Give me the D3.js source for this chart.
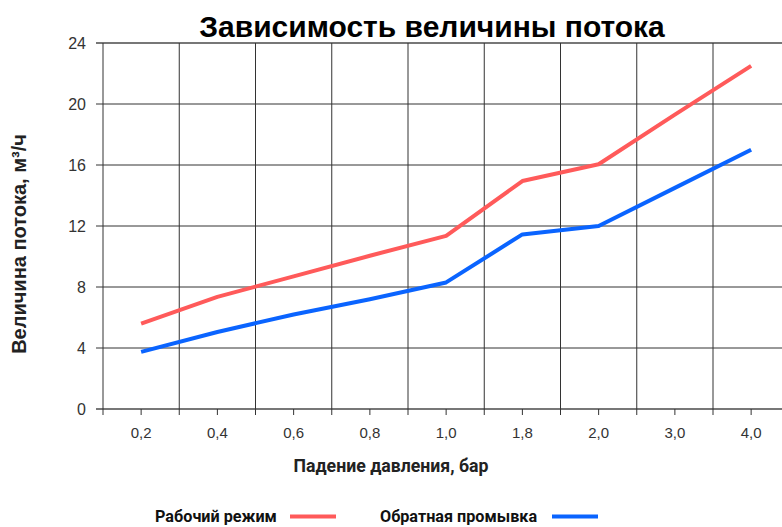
<!DOCTYPE html>
<html><head><meta charset="utf-8">
<script src="https://cdn.jsdelivr.net/npm/d3@7/dist/d3.min.js"></script>
<style>body{margin:0;background:#fff}svg{display:block}</style>
</head><body><svg id="c" width="782" height="527"></svg>
<script>
const categories = ["0,2","0,4","0,6","0,8","1,0","1,8","2,0","3,0","4,0"];
const workMode = [5.6, 7.35, 8.7, 10.05, 11.35, 14.95, 16.05, 19.3, 22.5];
const backwash = [3.75, 5.05, 6.2, 7.2, 8.3, 11.45, 12.0, 14.5, 17.0];
const yTicks = [0, 4, 8, 12, 16, 20, 24];
const seriesNames = ["Рабочий режим", "Обратная промывка"];
const colors = ["#ff5a5a", "#0a64ff"];

const svg = d3.select("#c");
const plotLeft = 103, plotTop = 43, plotBottom = 409;
const x = d3.scaleBand().domain(categories).range([plotLeft, plotLeft + 9*76.25]);
const y = d3.scaleLinear().domain([0, 24]).range([plotBottom, plotTop]);

// horizontal gridlines
svg.append("g").selectAll("line").data(yTicks).join("line")
  .attr("x1", 96).attr("x2", 782)
  .attr("y1", d => y(d)).attr("y2", d => y(d))
  .attr("stroke", d => (d === 0 || d === 24) ? "#777" : "#333")
  .attr("stroke-width", d => (d === 0 || d === 24) ? 2 : 1);

// vertical gridlines at band boundaries
const bounds = categories.map(c => x(c));
svg.append("g").selectAll("line").data(bounds).join("line")
  .attr("x1", d => d).attr("x2", d => d)
  .attr("y1", plotTop).attr("y2", plotBottom + 6)
  .attr("stroke", "#333").attr("stroke-width", 1);
// ticks at centers
svg.append("g").selectAll("line").data(categories).join("line")
  .attr("x1", d => x(d) + x.bandwidth()/2).attr("x2", d => x(d) + x.bandwidth()/2)
  .attr("y1", plotBottom).attr("y2", plotBottom + 6)
  .attr("stroke", "#333").attr("stroke-width", 1);

// y tick labels
svg.append("g").selectAll("text").data(yTicks).join("text")
  .attr("x", 86).attr("y", d => y(d)).attr("dy", "0.35em")
  .attr("text-anchor", "end").attr("font-family", "Liberation Sans, Arial, sans-serif")
  .attr("font-size", 16).attr("fill", "#333").text(d => d);

// x tick labels
svg.append("g").selectAll("text").data(categories).join("text")
  .attr("x", d => x(d) + x.bandwidth()/2).attr("y", 433).attr("dy", "0.35em")
  .attr("text-anchor", "middle").attr("font-family", "Liberation Sans, Arial, sans-serif")
  .attr("font-size", 15).attr("fill", "#333").text(d => d);

// lines
const line = d3.line().x((d, i) => x(categories[i]) + x.bandwidth()/2).y(d => y(d));
[workMode, backwash].forEach((s, i) => {
  svg.append("path").datum(s).attr("d", line).attr("fill", "none")
    .attr("stroke", colors[i]).attr("stroke-width", 4).attr("stroke-linejoin", "round");
});

// title
svg.append("text").attr("x", 432).attr("y", 37).attr("text-anchor", "middle")
  .attr("font-family", "Liberation Sans, Arial, sans-serif").attr("font-weight", "bold")
  .attr("font-size", 30).attr("fill", "#000").text("Зависимость величины потока");

// y title
svg.append("text").attr("transform", "translate(26,244) rotate(-90)").attr("text-anchor", "middle")
  .attr("font-family", "Liberation Sans, Arial, sans-serif").attr("font-weight", "bold")
  .attr("font-size", 20).attr("fill", "#222").text("Величина потока, м³/ч");

// x title
svg.append("text").attr("x", 391).attr("y", 472).attr("text-anchor", "middle")
  .attr("font-family", "Roboto, sans-serif").attr("font-weight", "bold")
  .attr("font-size", 17.7).attr("fill", "#222").text("Падение давления, бар");

// legend
const legendX = [[155, 290], [380, 552]];
seriesNames.forEach((n, i) => {
  svg.append("text").attr("x", legendX[i][0]).attr("y", 522)
    .attr("font-family", "Roboto, sans-serif").attr("font-weight", "bold")
    .attr("font-size", 16.2).attr("fill", "#111").text(n);
  svg.append("line").attr("x1", legendX[i][1]).attr("x2", legendX[i][1] + 46)
    .attr("y1", 516.5).attr("y2", 516.5).attr("stroke", colors[i]).attr("stroke-width", 4);
});
</script></body></html>
